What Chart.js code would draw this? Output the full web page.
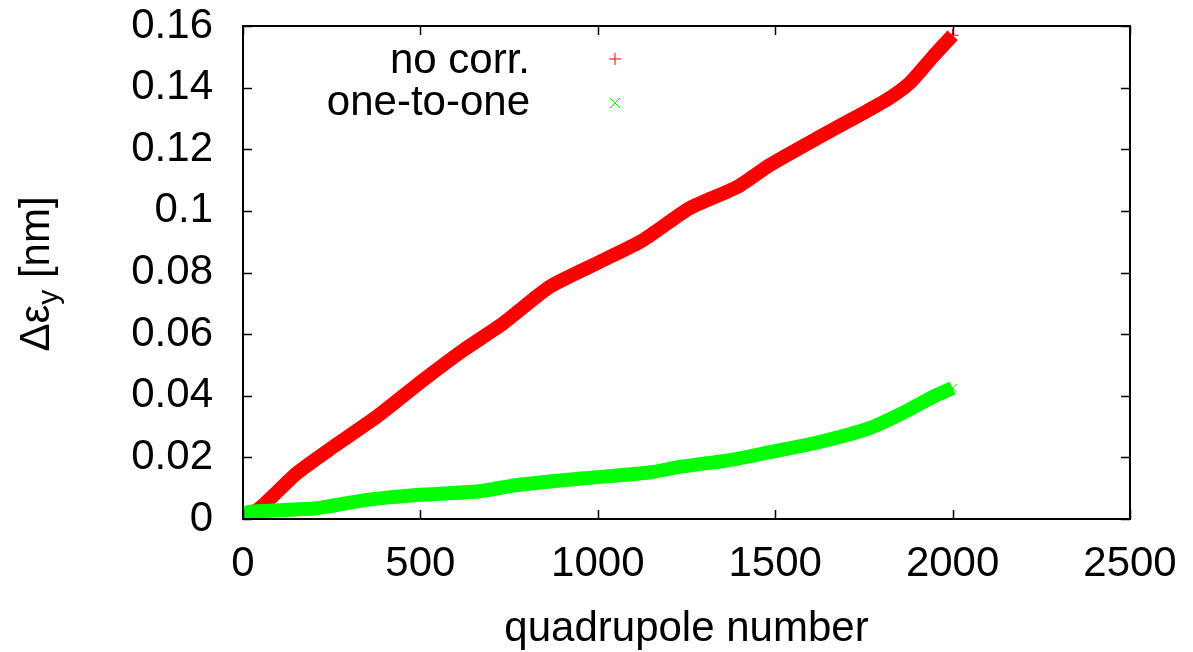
<!DOCTYPE html>
<html>
<head>
<meta charset="utf-8">
<title>quadrupole emittance growth</title>
<script src="https://cdn.jsdelivr.net/npm/chart.js@4"></script>
<style>
  body { margin: 0; background: #fff; }
  canvas { display: block; }
</style>
</head>
<body>
<canvas id="grafico" width="1193" height="652"></canvas>
<script>
// quadrupole number vs emittance growth, two correction schemes
const quadNoCorr = [0, 48, 151, 254, 377, 508, 621, 733, 865, 1006, 1127, 1259, 1392, 1485, 1625, 1738, 1814, 1879, 1944, 2000];
const epsNoCorr = [0.0005, 0.0036, 0.0148, 0.0234, 0.0332, 0.0451, 0.0548, 0.0635, 0.0754, 0.0835, 0.0905, 0.1009, 0.1077, 0.1149, 0.124, 0.1311, 0.136, 0.1415, 0.15, 0.157];

const quadOneToOne = [0, 20, 208, 348, 489, 658, 771, 959, 1146, 1231, 1372, 1485, 1625, 1766, 1859, 1944, 2000];
const epsOneToOne = [0.0015, 0.0024, 0.0035, 0.0062, 0.0078, 0.0089, 0.011, 0.0132, 0.0151, 0.0169, 0.0191, 0.0217, 0.025, 0.0295, 0.0344, 0.0396, 0.0425];

const seriesLabels = ["no corr.", "one-to-one"];
const xTicks = [0, 500, 1000, 1500, 2000, 2500];
const yTicks = [0, 0.02, 0.04, 0.06, 0.08, 0.1, 0.12, 0.14, 0.16];

const FONTE = '"Liberation Sans", Arial, Helvetica, sans-serif';
const VERMELHO = "#ff0000";
const VERDE = "#00ff00";

function pontos(xs, ys) {
  return xs.map((x, i) => ({ x, y: ys[i] }));
}

// frame, inward ticks on all sides, axis titles and the key
const molduraPlugin = {
  id: "moldura",
  afterDraw(chart) {
    const ctx = chart.ctx;
    const { left, right, top, bottom } = chart.chartArea;
    const sx = chart.scales.x;
    const sy = chart.scales.y;
    const tam = 9;

    ctx.save();
    ctx.strokeStyle = "#000";
    ctx.lineWidth = 2;
    ctx.strokeRect(left, top, right - left, bottom - top);

    ctx.lineWidth = 1.5;
    ctx.beginPath();
    xTicks.forEach(v => {
      const px = Math.round(sx.getPixelForValue(v)) + 0.5;
      ctx.moveTo(px, bottom); ctx.lineTo(px, bottom - tam);
      ctx.moveTo(px, top); ctx.lineTo(px, top + tam);
    });
    yTicks.forEach(v => {
      const py = Math.round(sy.getPixelForValue(v)) + 0.5;
      ctx.moveTo(left, py); ctx.lineTo(left + tam, py);
      ctx.moveTo(right, py); ctx.lineTo(right - tam, py);
    });
    ctx.stroke();

    // x title
    ctx.fillStyle = "#000";
    ctx.font = `42px ${FONTE}`;
    ctx.textAlign = "center";
    ctx.textBaseline = "alphabetic";
    ctx.fillText("quadrupole number", (left + right) / 2, 641);

    // y title: Δε with subscript y, rotated
    ctx.save();
    ctx.translate(49, 274);
    ctx.rotate(-Math.PI / 2);
    const parte1 = "Δε";
    const sub = "y";
    const parte2 = " [nm]";
    ctx.font = `42px ${FONTE}`;
    const w1 = ctx.measureText(parte1).width;
    const w3 = ctx.measureText(parte2).width;
    ctx.font = `30px ${FONTE}`;
    const w2 = ctx.measureText(sub).width;
    let x0 = -(w1 + w2 + w3) / 2;
    ctx.textAlign = "left";
    ctx.font = `42px ${FONTE}`;
    ctx.fillText(parte1, x0, 0);
    ctx.font = `30px ${FONTE}`;
    ctx.fillText(sub, x0 + w1, 9);
    ctx.font = `42px ${FONTE}`;
    ctx.fillText(parte2, x0 + w1 + w2, 0);
    ctx.restore();

    // key
    ctx.font = `42px ${FONTE}`;
    ctx.textAlign = "right";
    ctx.fillText(seriesLabels[0], 530, 73);
    ctx.fillText(seriesLabels[1], 530, 115);

    ctx.lineWidth = 1;
    ctx.strokeStyle = VERMELHO;
    ctx.beginPath();
    ctx.moveTo(609, 59); ctx.lineTo(621, 59);
    ctx.moveTo(615, 53); ctx.lineTo(615, 65);
    ctx.stroke();
    ctx.strokeStyle = VERDE;
    ctx.beginPath();
    ctx.moveTo(610, 98); ctx.lineTo(620, 108);
    ctx.moveTo(620, 98); ctx.lineTo(610, 108);
    ctx.stroke();

    ctx.restore();
  }
};

new Chart(document.getElementById("grafico").getContext("2d"), {
  type: "scatter",
  data: {
    datasets: [
      {
        label: seriesLabels[0],
        data: pontos(quadNoCorr, epsNoCorr),
        showLine: true,
        tension: 0.2,
        borderColor: VERMELHO,
        borderWidth: 14,
        borderJoinStyle: "round",
        pointStyle: "cross",
        pointRadius: 6,
        pointBorderWidth: 1,
        pointBorderColor: VERMELHO,
        pointBackgroundColor: VERMELHO,
        order: 2
      },
      {
        label: seriesLabels[1],
        data: pontos(quadOneToOne, epsOneToOne),
        showLine: true,
        tension: 0.2,
        borderColor: VERDE,
        borderWidth: 14,
        borderJoinStyle: "round",
        pointStyle: "crossRot",
        pointRadius: 6,
        pointBorderWidth: 1,
        pointBorderColor: VERDE,
        pointBackgroundColor: VERDE,
        order: 1
      }
    ]
  },
  options: {
    responsive: false,
    animation: false,
    layout: { padding: { top: 26, right: 63, left: 0, bottom: 0 } },
    plugins: {
      legend: { display: false },
      tooltip: { enabled: false }
    },
    scales: {
      x: {
        type: "linear",
        min: 0,
        max: 2500,
        afterBuildTicks: s => { s.ticks = xTicks.map(v => ({ value: v })); },
        afterFit: s => {
          s.height = 133;
          s.paddingLeft = 0;
          s.paddingRight = 0;
        },
        grid: { display: false, drawTicks: false },
        border: { display: false },
        ticks: {
          color: "#000",
          font: { family: FONTE, size: 42 },
          padding: 20,
          maxRotation: 0,
          callback: v => String(v)
        }
      },
      y: {
        type: "linear",
        min: 0,
        max: 0.16,
        afterBuildTicks: s => { s.ticks = yTicks.map(v => ({ value: v })); },
        afterFit: s => {
          s.width = 243;
          s.paddingTop = 0;
          s.paddingBottom = 0;
        },
        grid: { display: false, drawTicks: false },
        border: { display: false },
        ticks: {
          color: "#000",
          font: { family: FONTE, size: 42 },
          padding: 30,
          callback: v => String(Number(v.toFixed(2)))
        }
      }
    }
  },
  plugins: [molduraPlugin]
});
</script>
</body>
</html>
